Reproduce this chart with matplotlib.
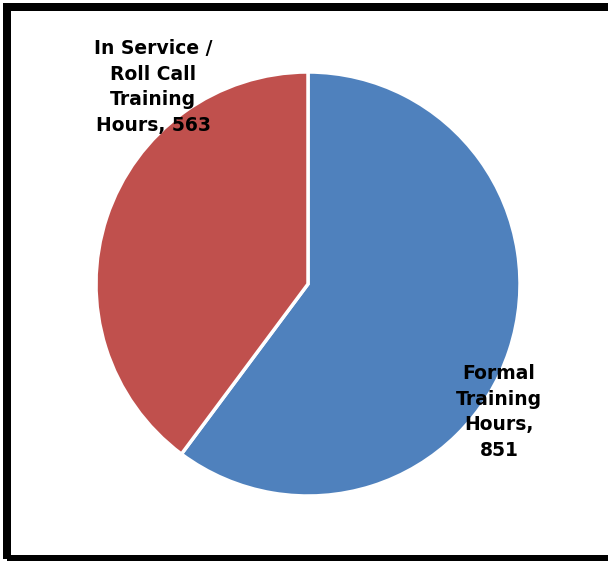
import matplotlib.pyplot as plt
from matplotlib.patches import Rectangle

labels = ['Formal\nTraining\nHours,\n851', 'In Service /\nRoll Call\nTraining\nHours, 563']
values = [851, 563]
colors = ['#4F81BD', '#C0504D']

W, H = 608, 561
fig = plt.figure(figsize=(W / 100, H / 100), dpi=100)

# pie centred at (308, 284) px, radius 212 px
cx, cy, r = 308, 284, 212
ax = fig.add_axes([(cx - r) / W, 1 - (cy + r) / H, 2 * r / W, 2 * r / H])
wedges, _ = ax.pie(values, colors=colors, startangle=90, counterclock=False,
                   radius=1, wedgeprops=dict(edgecolor='white', linewidth=2.5))
ax.set_xlim(-1, 1)
ax.set_ylim(-1, 1)
ax.set_aspect('equal')
ax.axis('off')

label_pos = [(499, 412), (153, 87)]
for lab, (px, py) in zip(labels, label_pos):
    fig.text(px / W, 1 - py / H, lab, ha='center', va='center', fontsize=13.5,
             fontweight='bold', family='DejaVu Sans', linespacing=1.45)

# black frame (right edge falls outside the image)
fig.patches.append(Rectangle((7, 2), 620, H - 9, transform=None, fill=False,
                             edgecolor='black', linewidth=8 * 72 / 100))

fig.savefig('out.png', dpi=100)
